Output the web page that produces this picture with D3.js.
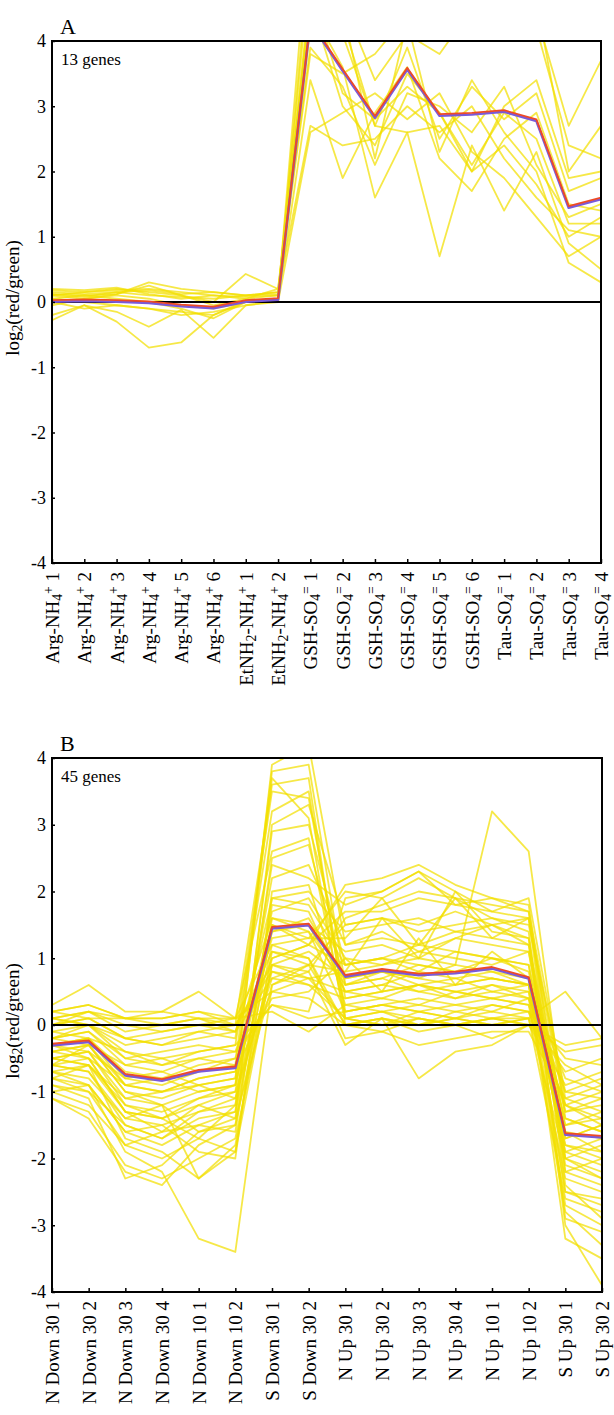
<!DOCTYPE html>
<html>
<head>
<meta charset="utf-8">
<script src="https://cdn.jsdelivr.net/npm/d3@7"></script>
<style>
  body { margin: 0; background: #fff; }
  svg { display: block; font-family: "Liberation Serif", "Times New Roman", serif; }
</style>
</head>
<body>
<svg id="chart" width="614" height="1415"></svg>
<script>
// categories (_x = subscript, ^x = superscript)
const catsA = [
  "Arg-NH_4^+ 1", "Arg-NH_4^+ 2", "Arg-NH_4^+ 3", "Arg-NH_4^+ 4", "Arg-NH_4^+ 5", "Arg-NH_4^+ 6",
  "EtNH_2-NH_4^+ 1", "EtNH_2-NH_4^+ 2",
  "GSH-SO_4^= 1", "GSH-SO_4^= 2", "GSH-SO_4^= 3", "GSH-SO_4^= 4", "GSH-SO_4^= 5", "GSH-SO_4^= 6",
  "Tau-SO_4^= 1", "Tau-SO_4^= 2", "Tau-SO_4^= 3", "Tau-SO_4^= 4"
];
const catsB = [
  "N Down 30 1", "N Down 30 2", "N Down 30 3", "N Down 30 4", "N Down 10 1", "N Down 10 2",
  "S Down 30 1", "S Down 30 2",
  "N Up 30 1", "N Up 30 2", "N Up 30 3", "N Up 30 4", "N Up 10 1", "N Up 10 2",
  "S Up 30 1", "S Up 30 2"
];
const yTicks = [-4, -3, -2, -1, 0, 1, 2, 3, 4];

// cluster A: 13 genes
const genesA = [
  [0.15, 0.12, 0.15, 0.10, 0.08, 0.05, 0.10, 0.12, 5.2, 4.5, 2.2, 4.3, 2.3, 3.4, 2.6, 2.0, 0.6, 0.3],
  [0.10, 0.15, 0.18, 0.20, 0.15, 0.10, 0.05, 0.10, 4.8, 3.2, 2.8, 3.3, 2.9, 2.0, 3.0, 3.4, 1.9, 2.0],
  [-0.28, -0.05, -0.30, -0.70, -0.62, -0.20, 0.00, 0.05, 6.0, 5.0, 4.6, 5.2, 4.4, 4.3, 4.6, 4.4, 2.7, 3.7],
  [0.12, 0.10, 0.12, 0.30, 0.20, 0.15, 0.10, 0.15, 2.7, 2.4, 2.5, 3.0, 2.6, 3.0, 2.2, 1.6, 1.1, 1.0],
  [-0.20, -0.05, -0.15, -0.38, -0.12, -0.55, -0.05, 0.02, 3.4, 1.9, 2.9, 3.6, 2.2, 1.7, 2.5, 2.9, 1.5, 1.4],
  [0.18, 0.15, 0.20, 0.15, 0.10, 0.00, 0.43, 0.20, 4.5, 3.6, 1.6, 2.6, 0.7, 2.4, 1.4, 2.3, 0.9, 0.5],
  [0.05, 0.10, 0.05, 0.00, -0.10, -0.25, 0.00, 0.05, 5.5, 4.6, 3.4, 4.1, 3.8, 4.5, 4.2, 4.6, 2.0, 2.7],
  [0.10, 0.05, 0.12, 0.25, 0.10, -0.05, 0.05, 0.20, 3.9, 3.3, 2.1, 3.2, 3.0, 2.6, 3.3, 2.1, 1.3, 1.5],
  [0.00, -0.10, -0.05, -0.10, -0.20, -0.15, -0.05, 0.00, 2.6, 2.9, 3.2, 2.8, 3.2, 2.3, 1.9, 1.3, 0.7, 1.0],
  [0.20, 0.18, 0.22, 0.12, 0.05, 0.10, 0.08, 0.10, 4.2, 4.3, 2.7, 3.9, 2.5, 3.3, 2.8, 3.2, 1.7, 1.9],
  [-0.05, 0.05, 0.10, 0.05, -0.05, -0.10, 0.00, 0.05, 4.6, 3.0, 2.4, 3.5, 2.9, 2.1, 2.9, 2.5, 1.2, 1.2],
  [0.12, 0.08, 0.15, 0.18, 0.12, 0.15, 0.10, 0.15, 3.8, 3.5, 3.8, 4.4, 4.1, 4.0, 4.3, 4.2, 2.4, 2.2],
  [0.05, 0.00, -0.05, -0.10, -0.15, -0.20, 0.02, 0.05, 4.7, 4.1, 2.7, 2.6, 2.7, 2.0, 2.4, 1.8, 1.0, 1.3]
];
const meanA = [0.02, 0.03, 0.02, 0.00, -0.05, -0.08, 0.02, 0.05, 4.3, 3.56, 2.84, 3.58, 2.87, 2.89, 2.93, 2.79, 1.46, 1.59];

// cluster B: 45 genes
const genesB = [
  [-0.3, -0.2, -0.8, -0.9, -0.7, -0.6, 3.8, 3.9, 0.6, 0.8, 0.7, 0.9, 0.8, 0.6, -1.8, -1.9],
  [0.1, 0.2, 0.1, 0.1, 0.2, 0.0, 3.6, 3.7, 0.1, 0.2, 0.1, 0.0, 0.1, 0.2, -1.2, -1.5],
  [-0.5, -0.4, -1.2, -1.4, -1.1, -0.9, 3.9, 4.2, 1.2, 1.4, 1.1, 1.3, 1.5, 1.2, -2.1, -2.3],
  [-0.2, 0.0, -0.5, -0.6, -0.4, -0.3, 3.2, 3.5, 0.2, 0.3, 0.2, 0.1, 0.3, 0.2, -1.5, -1.3],
  [-0.8, -0.9, -1.6, -1.8, -1.5, -1.3, 2.9, 3.0, 0.9, 1.0, 0.8, 1.1, 1.0, 0.9, -2.5, -2.7],
  [0.0, 0.1, -0.2, -0.3, -0.1, -0.2, 3.5, 3.4, 0.4, 0.5, 0.6, 0.4, 0.5, 0.4, -1.0, -1.1],
  [-0.6, -0.3, -1.0, -1.1, -0.9, -0.8, 3.7, 3.1, 0.0, 0.1, 0.0, 0.1, 0.0, 0.1, -2.0, -1.8],
  [0.2, 0.3, 0.1, 0.0, 0.1, 0.1, 2.6, 2.8, 0.1, 0.0, 0.1, 0.0, 0.1, 0.0, -0.9, -0.7],
  [-0.4, -0.5, -1.3, -1.6, -1.2, -1.0, 2.4, 2.2, 1.8, 2.0, 2.3, 2.0, 1.7, 1.6, -2.4, -2.9],
  [-0.9, -1.1, -2.3, -2.1, -1.6, -1.4, 3.0, 3.3, 1.5, 1.6, 1.4, 1.5, 1.6, 1.4, -2.9, -3.1],
  [-0.3, -0.2, -0.7, -0.8, -0.6, -0.5, 1.9, 1.8, 0.9, 1.0, 0.9, 0.8, 1.0, 0.9, -1.6, -1.7],
  [-1.0, -1.2, -1.8, -2.0, -1.7, -1.9, 1.6, 1.5, 1.1, 1.2, 1.0, 1.3, 1.2, 1.1, -2.2, -2.0],
  [0.3, 0.6, 0.2, 0.2, 0.5, 0.1, 1.2, 1.0, 0.0, -0.1, 0.1, 0.0, -0.2, 0.0, -0.3, -0.2],
  [-0.6, -0.7, -1.5, -1.7, -1.3, -1.2, 1.4, 1.6, 0.7, 0.8, 0.7, 0.6, 0.7, 0.6, -1.9, -2.1],
  [-0.2, -0.1, -0.5, -0.4, -0.3, -0.4, 1.0, 1.2, 2.1, 2.2, 2.4, 2.1, 1.9, 1.7, -1.2, -1.4],
  [-1.1, -1.4, -2.2, -2.4, -1.8, -1.5, 1.8, 1.7, 0.5, 0.6, 0.5, 0.4, 0.6, 0.5, -2.7, -3.0],
  [-0.4, -0.3, -0.9, -1.0, -0.8, -0.7, 1.5, 1.3, 1.3, 1.9, 1.2, 1.9, 1.3, 1.6, -1.3, -1.2],
  [0.1, 0.0, -0.3, -0.2, -0.1, 0.0, 0.9, 0.8, 1.6, 1.8, 2.0, 1.9, 1.6, 1.5, -1.0, -0.8],
  [-0.7, -0.8, -1.4, -1.5, -1.9, -2.0, 2.0, 2.1, 0.3, 0.4, 0.3, 0.5, 0.4, 0.3, -2.3, -2.5],
  [-0.5, -0.6, -1.1, -1.2, -1.0, -0.9, 1.7, 1.9, 1.0, 0.9, 1.1, 1.0, 0.9, 1.1, -1.7, -1.5],
  [-0.2, -0.3, -0.6, -0.7, -0.5, -0.6, 1.3, 1.4, 0.2, 0.3, 0.4, 0.3, 0.2, 0.4, -1.4, -1.6],
  [-0.8, -0.6, -1.7, -1.9, -2.3, -1.8, 1.1, 0.9, 0.8, 1.6, 1.0, 2.0, 1.4, 1.3, -2.0, -2.2],
  [0.0, 0.2, -0.1, 0.0, 0.1, -0.1, 1.6, 1.4, 0.6, 0.7, 0.9, 0.8, 0.7, 0.6, -0.8, -1.0],
  [-1.0, -0.9, -1.9, -2.2, -3.2, -3.4, 0.6, 0.8, -0.3, 0.1, -0.8, -0.4, -0.3, 0.0, -0.6, -0.9],
  [-0.3, -0.4, -0.8, -0.7, -0.9, -0.8, 2.2, 2.4, 1.2, 1.3, 1.2, 1.4, 1.3, 1.2, -1.5, -1.4],
  [0.2, 0.1, 0.1, 0.1, 0.2, 0.1, 0.5, 0.4, 0.0, 0.1, 0.0, 0.1, 0.2, 0.1, 0.5, -0.2],
  [-0.5, -0.6, -1.2, -1.3, -1.1, -1.0, 0.7, 0.6, 0.4, 0.5, 0.6, 0.5, 0.4, 0.5, -1.8, -2.0],
  [-0.1, -0.2, -0.4, -0.5, -0.4, -0.3, 0.3, 0.2, 1.9, 2.0, 2.3, 1.8, 1.7, 1.9, -1.1, -1.3],
  [-0.7, -0.9, -1.6, -1.5, -1.3, -1.1, 0.8, 0.7, 0.1, 0.2, 0.0, 0.2, 0.1, 0.1, -2.6, -2.8],
  [0.1, 0.2, 0.0, -0.1, 0.0, 0.1, 0.2, -0.1, 0.3, 0.2, 0.3, 0.2, 0.3, 0.2, -0.5, -0.6],
  [-0.4, -0.3, -1.0, -1.2, -2.3, -1.9, 0.9, 1.1, 0.7, 0.8, 0.6, 0.7, 0.8, 0.7, -3.2, -3.5],
  [-0.6, -0.5, -1.3, -1.4, -1.2, -1.4, 0.6, 0.9, 1.5, 1.6, 1.5, 1.7, 1.5, 1.6, -1.6, -1.9],
  [-0.2, -0.1, -0.6, -0.5, -0.7, -0.5, 0.4, 0.5, 1.0, 0.5, 1.3, 0.6, 1.1, 0.7, -1.3, -1.1],
  [-1.1, -1.3, -2.1, -2.3, -2.0, -1.7, 0.9, 0.7, 0.5, 0.4, 0.6, 0.5, 0.6, 0.4, -2.8, -3.3],
  [-0.3, -0.2, -0.9, -1.0, -0.8, -0.7, 0.5, 0.7, 0.8, 0.9, 1.0, 0.9, 3.2, 2.6, -1.4, -1.6],
  [0.0, 0.1, -0.2, -0.3, -0.2, -0.1, 1.1, 1.0, -0.2, -0.1, -0.3, -0.2, -0.1, -0.1, -1.1, -0.9],
  [-0.8, -1.0, -1.5, -1.7, -1.4, -1.3, 1.2, 1.3, 2.0, 1.9, 2.2, 1.9, 1.8, 1.7, -2.2, -2.4],
  [-0.5, -0.4, -1.1, -1.0, -0.9, -1.1, 1.4, 1.5, 0.5, 0.6, 0.8, 0.7, 0.5, 0.6, -1.9, -1.7],
  [0.2, 0.3, 0.1, 0.2, 0.1, 0.0, 0.8, 0.6, 0.1, 0.0, 0.2, 0.1, 0.0, 0.1, -0.7, -0.5],
  [-0.9, -1.0, -1.8, -1.6, -1.5, -1.6, 1.9, 2.0, 1.4, 1.5, 1.6, 1.4, 1.5, 1.3, -3.0, -3.9],
  [-0.1, 0.0, -0.4, -0.6, -0.5, -0.4, 0.3, 0.1, 0.2, 0.3, 0.2, 0.3, 0.4, 0.3, -1.2, -1.0],
  [-0.6, -0.7, -1.4, -1.2, -1.6, -1.5, 1.0, 1.2, 1.7, 1.7, 1.9, 1.8, 1.9, 1.8, -2.0, -2.3],
  [-0.3, -0.5, -0.9, -0.8, -1.0, -0.9, 1.5, 1.2, 0.9, 1.0, 1.2, 1.1, 1.0, 0.8, -1.7, -1.5],
  [0.1, 0.0, -0.2, -0.1, 0.0, -0.1, 0.7, 0.9, 0.0, 0.1, -0.1, 0.0, 0.1, 0.0, -0.4, -0.3],
  [-0.7, -0.6, -1.3, -1.4, -1.7, -1.2, 2.5, 2.7, 0.6, 0.7, 0.5, 0.6, 0.7, 0.6, -2.5, -2.6]
];
const meanB = [-0.29, -0.24, -0.74, -0.82, -0.68, -0.63, 1.46, 1.51, 0.74, 0.83, 0.76, 0.79, 0.86, 0.71, -1.63, -1.67];

const svg = d3.select("#chart");

// write "Arg-NH_4^+ 1" style labels as tspans
function richText(sel, str) {
  let buf = "";
  const flush = () => { if (buf) { sel.append("tspan").text(buf); buf = ""; } };
  for (let i = 0; i < str.length; i++) {
    const c = str[i];
    if ((c === "_" || c === "^") && i + 1 < str.length) {
      flush();
      sel.append("tspan")
        .attr("font-size", "0.72em")
        .attr("baseline-shift", c === "_" ? "-22%" : "45%")
        .text(str[i + 1]);
      i++;
    } else buf += c;
  }
  flush();
}

function drawPanel(opt) {
  const { cats, genes, mean, letter, count, left, right, top, bottom, id } = opt;

  const x = d3.scalePoint().domain(cats).range([left, right]);
  const y = d3.scaleLinear().domain([-4, 4]).range([bottom, top]);

  const g = svg.append("g");

  g.append("clipPath").attr("id", "clip" + id)
    .append("rect")
    .attr("x", left).attr("y", top)
    .attr("width", right - left).attr("height", bottom - top);

  const line = d3.line()
    .x((d, i) => x(cats[i]))
    .y(d => y(d));

  const plot = g.append("g").attr("clip-path", `url(#clip${id})`);

  plot.selectAll(".gene")
    .data(genes)
    .join("path")
    .attr("class", "gene")
    .attr("d", line)
    .attr("fill", "none")
    .attr("stroke", "#f2df00")
    .attr("stroke-opacity", 0.72)
    .attr("stroke-width", 1.8)
    .attr("stroke-linejoin", "round");

  // zero line
  plot.append("line")
    .attr("x1", left).attr("x2", right)
    .attr("y1", y(0)).attr("y2", y(0))
    .attr("stroke", "#000").attr("stroke-width", 2);

  // mean profile: blue under red
  plot.append("path")
    .datum(mean)
    .attr("d", line)
    .attr("transform", "translate(0,1)")
    .attr("fill", "none")
    .attr("stroke", "#7a5ad8")
    .attr("stroke-width", 2.6)
    .attr("stroke-linejoin", "round");
  plot.append("path")
    .datum(mean)
    .attr("d", line)
    .attr("transform", "translate(0,-0.6)")
    .attr("fill", "none")
    .attr("stroke", "#ee4a26")
    .attr("stroke-width", 1.8)
    .attr("stroke-linejoin", "round");

  // frame
  g.append("rect")
    .attr("x", left).attr("y", top)
    .attr("width", right - left).attr("height", bottom - top)
    .attr("fill", "none").attr("stroke", "#000").attr("stroke-width", 2);

  // y axis
  const ya = g.append("g")
    .attr("transform", `translate(${left},0)`)
    .call(d3.axisLeft(y).tickValues(yTicks).tickFormat(d => String(d))
      .tickSizeInner(-3).tickSizeOuter(0).tickPadding(6));
  ya.select(".domain").remove();
  ya.selectAll(".tick line").attr("stroke", "#000").attr("stroke-width", 1.5);
  ya.selectAll(".tick text")
    .attr("font-size", 18).attr("fill", "#000")
    .attr("font-family", "Liberation Serif");

  // x axis
  const xa = g.append("g")
    .attr("transform", `translate(0,${bottom})`)
    .call(d3.axisBottom(x).tickSizeInner(-4).tickSizeOuter(0).tickFormat(""));
  xa.select(".domain").remove();
  xa.selectAll(".tick line").attr("stroke", "#000").attr("stroke-width", 1.5);
  xa.selectAll(".tick text").remove();
  xa.selectAll(".tick").each(function (d) {
    const t = d3.select(this).append("text")
      .attr("transform", "rotate(-90)")
      .attr("x", -9)
      .attr("y", 0)
      .attr("dy", "0.34em")
      .attr("text-anchor", "end")
      .attr("font-size", 19)
      .attr("font-family", "Liberation Serif")
      .attr("fill", "#000");
    richText(t, d);
  });

  // y title
  const yt = g.append("text")
    .attr("transform", `translate(19,${(top + bottom) / 2 - 4}) rotate(-90)`)
    .attr("text-anchor", "middle")
    .attr("font-size", 19)
    .attr("fill", "#000");
  richText(yt, "log_2(red/green)");

  // panel letter and gene count
  g.append("text")
    .attr("x", left + 8).attr("y", top - 7)
    .attr("font-size", 22).attr("fill", "#000")
    .text(letter);
  g.append("text")
    .attr("x", left + 9).attr("y", top + 24)
    .attr("font-size", 17).attr("fill", "#000")
    .text(count);
}

drawPanel({ id: "A", cats: catsA, genes: genesA, mean: meanA, letter: "A", count: "13 genes",
  left: 52, right: 601, top: 41, bottom: 563 });
drawPanel({ id: "B", cats: catsB, genes: genesB, mean: meanB, letter: "B", count: "45 genes",
  left: 52, right: 602, top: 758, bottom: 1292 });
</script>
</body>
</html>
